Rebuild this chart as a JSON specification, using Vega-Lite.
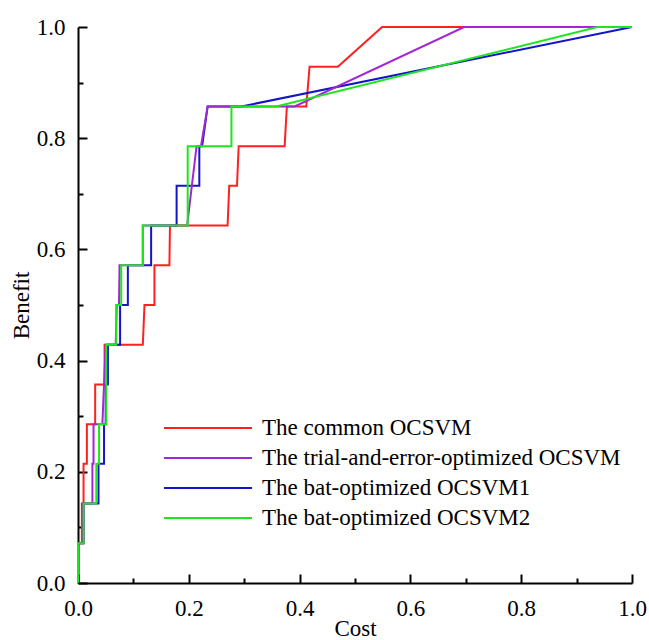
{
  "$schema": "https://vega.github.io/schema/vega-lite/v6.json",
  "width": 554,
  "height": 556,
  "autosize": {"type": "none"},
  "padding": {"left": 78, "top": 27, "right": 17, "bottom": 57},
  "background": "white",
  "config": {
    "view": {"stroke": null},
    "font": "Liberation Serif",
    "axis": {
      "grid": false,
      "domainColor": "black",
      "domainWidth": 2,
      "tickColor": "black",
      "tickWidth": 2,
      "labelFlush": false,
      "labelOverlap": false,
      "labelFont": "Liberation Serif",
      "labelFontSize": 23,
      "labelColor": "black",
      "titleFont": "Liberation Serif",
      "titleFontSize": 23,
      "titleFontWeight": "normal",
      "titleColor": "black"
    }
  },
  "datasets": {
    "common": [
      {"i": 0, "cost": 0, "benefit": 0}, {"i": 1, "cost": 0, "benefit": 0.0714},
      {"i": 2, "cost": 0.007, "benefit": 0.0714}, {"i": 3, "cost": 0.007, "benefit": 0.1429},
      {"i": 4, "cost": 0.010, "benefit": 0.1429}, {"i": 5, "cost": 0.010, "benefit": 0.2143},
      {"i": 6, "cost": 0.016, "benefit": 0.2143}, {"i": 7, "cost": 0.016, "benefit": 0.2857},
      {"i": 8, "cost": 0.031, "benefit": 0.2857}, {"i": 9, "cost": 0.031, "benefit": 0.3571},
      {"i": 10, "cost": 0.048, "benefit": 0.3571}, {"i": 11, "cost": 0.048, "benefit": 0.4286},
      {"i": 12, "cost": 0.117, "benefit": 0.4286}, {"i": 13, "cost": 0.120, "benefit": 0.5},
      {"i": 14, "cost": 0.138, "benefit": 0.5}, {"i": 15, "cost": 0.138, "benefit": 0.5714},
      {"i": 16, "cost": 0.165, "benefit": 0.5714}, {"i": 17, "cost": 0.166, "benefit": 0.6429},
      {"i": 18, "cost": 0.270, "benefit": 0.6429}, {"i": 19, "cost": 0.273, "benefit": 0.7143},
      {"i": 20, "cost": 0.287, "benefit": 0.7143}, {"i": 21, "cost": 0.290, "benefit": 0.7857},
      {"i": 22, "cost": 0.373, "benefit": 0.7857}, {"i": 23, "cost": 0.377, "benefit": 0.8571},
      {"i": 24, "cost": 0.412, "benefit": 0.8571}, {"i": 25, "cost": 0.418, "benefit": 0.9286},
      {"i": 26, "cost": 0.469, "benefit": 0.9286}, {"i": 27, "cost": 0.549, "benefit": 1},
      {"i": 28, "cost": 1, "benefit": 1}
    ],
    "trial": [
      {"i": 0, "cost": 0, "benefit": 0}, {"i": 1, "cost": 0, "benefit": 0.0714},
      {"i": 2, "cost": 0.010, "benefit": 0.0714}, {"i": 3, "cost": 0.010, "benefit": 0.1429},
      {"i": 4, "cost": 0.026, "benefit": 0.1429}, {"i": 5, "cost": 0.026, "benefit": 0.2143},
      {"i": 6, "cost": 0.028, "benefit": 0.2143}, {"i": 7, "cost": 0.028, "benefit": 0.2857},
      {"i": 8, "cost": 0.044, "benefit": 0.2857}, {"i": 9, "cost": 0.047, "benefit": 0.3571},
      {"i": 10, "cost": 0.050, "benefit": 0.4286}, {"i": 11, "cost": 0.068, "benefit": 0.4286},
      {"i": 12, "cost": 0.070, "benefit": 0.5}, {"i": 13, "cost": 0.074, "benefit": 0.5},
      {"i": 14, "cost": 0.075, "benefit": 0.5714}, {"i": 15, "cost": 0.117, "benefit": 0.5714},
      {"i": 16, "cost": 0.117, "benefit": 0.6429}, {"i": 17, "cost": 0.197, "benefit": 0.6429},
      {"i": 18, "cost": 0.214, "benefit": 0.7857}, {"i": 19, "cost": 0.222, "benefit": 0.7857},
      {"i": 20, "cost": 0.234, "benefit": 0.8571}, {"i": 21, "cost": 0.391, "benefit": 0.8571},
      {"i": 22, "cost": 0.697, "benefit": 1}, {"i": 23, "cost": 1, "benefit": 1}
    ],
    "bat1": [
      {"i": 0, "cost": 0, "benefit": 0}, {"i": 1, "cost": 0, "benefit": 0.0714},
      {"i": 2, "cost": 0.010, "benefit": 0.0714}, {"i": 3, "cost": 0.010, "benefit": 0.1429},
      {"i": 4, "cost": 0.037, "benefit": 0.1429}, {"i": 5, "cost": 0.037, "benefit": 0.2143},
      {"i": 6, "cost": 0.047, "benefit": 0.2143}, {"i": 7, "cost": 0.047, "benefit": 0.2857},
      {"i": 8, "cost": 0.050, "benefit": 0.2857}, {"i": 9, "cost": 0.050, "benefit": 0.3571},
      {"i": 10, "cost": 0.054, "benefit": 0.3571}, {"i": 11, "cost": 0.054, "benefit": 0.4286},
      {"i": 12, "cost": 0.076, "benefit": 0.4286}, {"i": 13, "cost": 0.076, "benefit": 0.5},
      {"i": 14, "cost": 0.090, "benefit": 0.5}, {"i": 15, "cost": 0.090, "benefit": 0.5714},
      {"i": 16, "cost": 0.132, "benefit": 0.5714}, {"i": 17, "cost": 0.132, "benefit": 0.6429},
      {"i": 18, "cost": 0.178, "benefit": 0.6429}, {"i": 19, "cost": 0.178, "benefit": 0.7143},
      {"i": 20, "cost": 0.219, "benefit": 0.7143}, {"i": 21, "cost": 0.219, "benefit": 0.7857},
      {"i": 22, "cost": 0.224, "benefit": 0.7857}, {"i": 23, "cost": 0.234, "benefit": 0.8571},
      {"i": 24, "cost": 0.295, "benefit": 0.8571}, {"i": 25, "cost": 1, "benefit": 1}
    ],
    "bat2": [
      {"i": 0, "cost": 0, "benefit": 0}, {"i": 1, "cost": 0, "benefit": 0.0714},
      {"i": 2, "cost": 0.010, "benefit": 0.0714}, {"i": 3, "cost": 0.010, "benefit": 0.1429},
      {"i": 4, "cost": 0.033, "benefit": 0.1429}, {"i": 5, "cost": 0.033, "benefit": 0.2143},
      {"i": 6, "cost": 0.038, "benefit": 0.2143}, {"i": 7, "cost": 0.038, "benefit": 0.2857},
      {"i": 8, "cost": 0.051, "benefit": 0.2857}, {"i": 9, "cost": 0.051, "benefit": 0.4286},
      {"i": 10, "cost": 0.069, "benefit": 0.4286}, {"i": 11, "cost": 0.069, "benefit": 0.5},
      {"i": 12, "cost": 0.078, "benefit": 0.5}, {"i": 13, "cost": 0.078, "benefit": 0.5714},
      {"i": 14, "cost": 0.117, "benefit": 0.5714}, {"i": 15, "cost": 0.117, "benefit": 0.6429},
      {"i": 16, "cost": 0.198, "benefit": 0.6429}, {"i": 17, "cost": 0.198, "benefit": 0.7857},
      {"i": 18, "cost": 0.277, "benefit": 0.7857}, {"i": 19, "cost": 0.277, "benefit": 0.8571},
      {"i": 20, "cost": 0.358, "benefit": 0.8571}, {"i": 21, "cost": 0.938, "benefit": 1},
      {"i": 22, "cost": 1, "benefit": 1}
    ]
  },
  "resolve": {"axis": {"x": "independent", "y": "independent"}},
  "layer": [
    {
      "data": {"name": "common"},
      "mark": {"type": "line", "strokeWidth": 2},
      "encoding": {
        "x": {
          "field": "cost", "type": "quantitative",
          "scale": {"domain": [0, 1], "nice": false},
          "axis": {
            "orient": "bottom",
            "title": "Cost",
            "values": [0, 0.2, 0.4, 0.6, 0.8, 1.0],
            "format": ".1f",
            "tickSize": -9,
            "labelPadding": 23,
            "titlePadding": -3
          }
        },
        "y": {
          "field": "benefit", "type": "quantitative",
          "scale": {"domain": [0, 1], "nice": false},
          "axis": {
            "orient": "left",
            "title": "Benefit",
            "values": [0, 0.2, 0.4, 0.6, 0.8, 1.0],
            "format": ".1f",
            "tickSize": -9,
            "labelPadding": 22,
            "titlePadding": 3
          }
        },
        "order": {"field": "i", "type": "quantitative"},
        "color": {
          "datum": "The common OCSVM", "type": "nominal",
          "scale": {
            "domain": ["The common OCSVM", "The trial-and-error-optimized OCSVM", "The bat-optimized OCSVM1", "The bat-optimized OCSVM2"],
            "range": ["#ff2020", "#a326d4", "#1414c8", "#1ee61e"]
          },
          "legend": {
            "title": null,
            "orient": "none",
            "legendX": 118,
            "legendY": 389,
            "symbolType": "M-4,0H4",
            "symbolSize": 484,
            "symbolStrokeWidth": 2,
            "labelFont": "Liberation Serif",
            "labelFontSize": 23,
            "labelColor": "black",
            "labelLimit": 0,
            "labelOffset": 42,
            "rowPadding": 6
          }
        }
      }
    },
    {
      "data": {"name": "bat1"},
      "mark": {"type": "line", "strokeWidth": 2},
      "encoding": {
        "x": {
          "field": "cost", "type": "quantitative",
          "axis": {
            "orient": "bottom",
            "title": null,
            "values": [0.1, 0.3, 0.5, 0.7, 0.9],
            "labels": false,
            "domain": false,
            "tickSize": -5
          }
        },
        "y": {
          "field": "benefit", "type": "quantitative",
          "axis": {
            "orient": "left",
            "title": null,
            "values": [0.1, 0.3, 0.5, 0.7, 0.9],
            "labels": false,
            "domain": false,
            "tickSize": -5
          }
        },
        "order": {"field": "i", "type": "quantitative"},
        "color": {"datum": "The bat-optimized OCSVM1", "type": "nominal"}
      }
    },
    {
      "data": {"name": "trial"},
      "mark": {"type": "line", "strokeWidth": 2},
      "encoding": {
        "x": {"field": "cost", "type": "quantitative", "axis": null},
        "y": {"field": "benefit", "type": "quantitative", "axis": null},
        "order": {"field": "i", "type": "quantitative"},
        "color": {"datum": "The trial-and-error-optimized OCSVM", "type": "nominal"}
      }
    },
    {
      "data": {"name": "bat2"},
      "mark": {"type": "line", "strokeWidth": 2},
      "encoding": {
        "x": {"field": "cost", "type": "quantitative", "axis": null},
        "y": {"field": "benefit", "type": "quantitative", "axis": null},
        "order": {"field": "i", "type": "quantitative"},
        "color": {"datum": "The bat-optimized OCSVM2", "type": "nominal"}
      }
    }
  ]
}
